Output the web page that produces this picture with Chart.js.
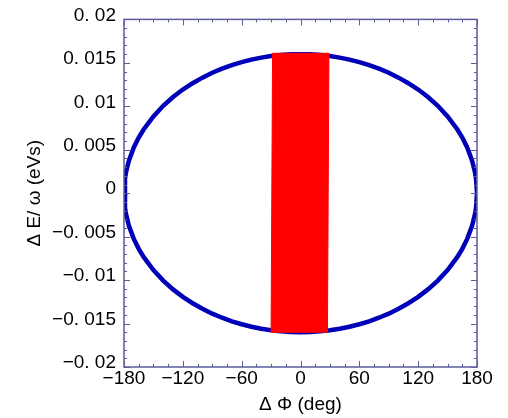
<!DOCTYPE html>
<html>
<head>
<meta charset="utf-8">
<script src="https://cdn.jsdelivr.net/npm/chart.js@4.4.1/dist/chart.umd.min.js"></script>
<style>
  html, body { margin: 0; padding: 0; background: #fff; }
  canvas { display: block; }
</style>
</head>
<body>
<canvas id="chart" width="508" height="418"></canvas>
<script>
// separatrix: phase (deg) and energy (eVs), upper and lower arcs
const arcPhase = [-180, -179, -178, -175, -170, -165, -160, -150, -140, -130, -120, -110, -100, -90, -80, -70, -60, -50, -40, -30, -20, -10,
  0, 10, 20, 30, 40, 50, 60, 70, 80, 90, 100, 110, 120, 130, 140, 150, 160, 165, 170, 175, 178, 179, 180];
const upperEnergy = [0, 0.00168, 0.00238, 0.00375, 0.00526, 0.00640, 0.00733, 0.00884, 0.01006, 0.01107, 0.01193, 0.01266, 0.01330, 0.01386, 0.01433, 0.01474, 0.01508, 0.01537, 0.01560, 0.01578, 0.01590, 0.01598,
  0.01600, 0.01598, 0.01590, 0.01578, 0.01560, 0.01537, 0.01508, 0.01474, 0.01433, 0.01386, 0.01330, 0.01266, 0.01193, 0.01107, 0.01006, 0.00884, 0.00733, 0.00640, 0.00526, 0.00375, 0.00238, 0.00168, 0];
const lowerEnergy = [0, -0.00168, -0.00238, -0.00375, -0.00526, -0.00640, -0.00733, -0.00884, -0.01006, -0.01107, -0.01193, -0.01266, -0.01330, -0.01386, -0.01433, -0.01474, -0.01508, -0.01537, -0.01560, -0.01578, -0.01590, -0.01598,
  -0.01600, -0.01598, -0.01590, -0.01578, -0.01560, -0.01537, -0.01508, -0.01474, -0.01433, -0.01386, -0.01330, -0.01266, -0.01193, -0.01107, -0.01006, -0.00884, -0.00733, -0.00640, -0.00526, -0.00375, -0.00238, -0.00168, 0];

// bunch outline (corners, clockwise from top left)
const bunchPhase = [-28.5, 29, 27.5, -30, -28.5];
const bunchEnergy = [0.0161, 0.0161, -0.0160, -0.0160, 0.0161];

const xTickLabels = ['\u2212180', '\u2212120', '\u221260', '0', '60', '120', '180'];
const yTickLabels = ['\u22120. 02', '\u22120. 015', '\u22120. 01', '\u22120. 005', '0', '0. 005', '0. 01', '0. 015', '0. 02'];

const frameColor = '#5c5c9c';
const labelFont = { family: "'Liberation Sans', Arial, sans-serif", size: 19 };

function points(xs, ys) {
  return xs.map((x, i) => ({ x: x, y: ys[i] }));
}

// box with inward major/minor ticks on all four sides
const frameTicks = {
  id: 'frameTicks',
  afterDraw(chart) {
    const { ctx, chartArea: a, scales: { x, y } } = chart;
    ctx.save();
    ctx.strokeStyle = frameColor;
    ctx.lineWidth = 1.5;
    ctx.strokeRect(a.left, a.top, a.right - a.left, a.bottom - a.top);
    ctx.lineWidth = 1;
    ctx.beginPath();
    for (let i = -12; i <= 12; i++) {
      const px = Math.round(x.getPixelForValue(i * 15)) + 0.5;
      const len = i % 4 === 0 ? 6 : 3;
      ctx.moveTo(px, a.bottom); ctx.lineTo(px, a.bottom - len);
      ctx.moveTo(px, a.top); ctx.lineTo(px, a.top + len);
    }
    for (let i = -20; i <= 20; i++) {
      const py = Math.round(y.getPixelForValue(i / 1000)) + 0.5;
      const len = i % 5 === 0 ? 6 : 3;
      ctx.moveTo(a.left, py); ctx.lineTo(a.left + len, py);
      ctx.moveTo(a.right, py); ctx.lineTo(a.right - len, py);
    }
    ctx.stroke();
    ctx.restore();
  }
};

new Chart(document.getElementById('chart').getContext('2d'), {
  type: 'scatter',
  data: {
    datasets: [{
      data: points(bunchPhase, bunchEnergy),
      showLine: true,
      fill: 'shape',
      backgroundColor: '#ff0000',
      borderColor: '#ff0000',
      borderWidth: 1,
      pointRadius: 0,
      tension: 0
    }, {
      data: points(arcPhase, upperEnergy),
      showLine: true,
      borderColor: '#0000b8',
      borderWidth: 4.5,
      pointRadius: 0,
      tension: 0
    }, {
      data: points(arcPhase, lowerEnergy),
      showLine: true,
      borderColor: '#0000b8',
      borderWidth: 4.5,
      pointRadius: 0,
      tension: 0
    }]
  },
  options: {
    responsive: false,
    animation: false,
    layout: { padding: { left: 0, right: 31, top: 18, bottom: 0 } },
    plugins: {
      legend: { display: false },
      tooltip: { enabled: false }
    },
    scales: {
      x: {
        type: 'linear',
        min: -180,
        max: 180,
        grid: { display: false, drawTicks: false },
        border: { display: false },
        ticks: {
          stepSize: 60,
          autoSkip: false,
          maxRotation: 0,
          padding: 0,
          color: '#000',
          font: labelFont,
          callback: (v, i) => xTickLabels[i]
        },
        title: {
          display: true,
          text: '\u0394 \u03a6 (deg)',
          color: '#000',
          font: labelFont,
          padding: { top: 0, bottom: 2 }
        },
        afterFit: s => { s.height = 51; }
      },
      y: {
        type: 'linear',
        min: -0.02,
        max: 0.02,
        grid: { display: false, drawTicks: false },
        border: { display: false },
        ticks: {
          stepSize: 0.005,
          autoSkip: false,
          padding: 8,
          labelOffset: -4,
          color: '#000',
          font: labelFont,
          callback: (v, i) => yTickLabels[i]
        },
        title: {
          display: true,
          text: '\u0394 E/ \u03c9 (eVs)',
          color: '#000',
          font: labelFont,
          padding: { top: 23, bottom: 0 }
        },
        afterFit: s => { s.width = 124; }
      }
    }
  },
  plugins: [frameTicks]
});
</script>
</body>
</html>
